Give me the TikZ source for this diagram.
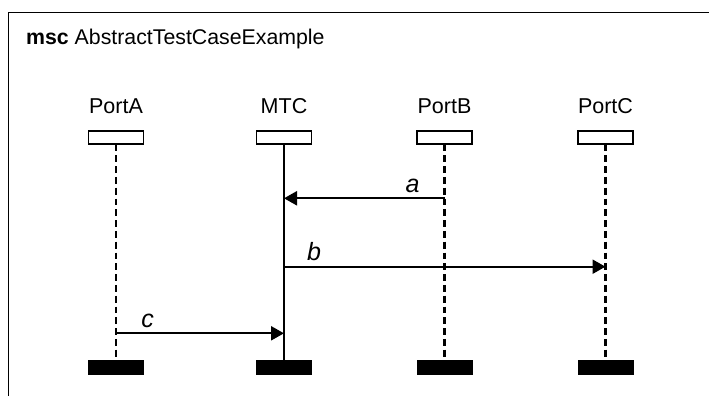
\documentclass[tikz,border=0pt]{standalone}
\usepackage{fontspec}
\setmainfont{Liberation Sans}
\usetikzlibrary{arrows.meta}
\begin{document}
\begin{tikzpicture}[x=1pt,y=-1pt,
  headbox/.style={draw,line width=1.4pt,minimum width=55pt,minimum height=13pt,inner sep=0pt,fill=white},
  endbox/.style={fill=black,draw=black,minimum width=55pt,minimum height=14pt,inner sep=0pt},
  portlabel/.style={anchor=base,inner sep=0pt,font=\fontsize{21.5}{24}\selectfont},
  msglabel/.style={anchor=base,inner sep=0pt,font=\fontsize{25}{28}\selectfont\itshape},
  envline/.style={line width=2.3pt,dash pattern=on 6.8pt off 4pt},
  instline/.style={line width=1.6pt},
  msg/.style={line width=2.3pt,-{Triangle[length=13pt,width=14pt]}}]
\useasboundingbox (0,0) rectangle (709,396);
% frame
\draw[line width=1.8pt] (8.5,396) -- (8.5,12.5) -- (709,12.5);
\node[anchor=base west,inner sep=0pt,font=\fontsize{21.3}{24}\selectfont] (title) at (26,44.5) {\textbf{msc} AbstractTestCaseExample};
% instance labels
\node[portlabel] (lA) at (116,113) {PortA};
\node[portlabel] (lM) at (284,113) {MTC};
\node[portlabel] (lB) at (444.5,113) {PortB};
\node[portlabel] (lC) at (605.5,113) {PortC};
% heads
\node[headbox] (hA) at (116,137.3) {};
\node[headbox] (hM) at (284,137.3) {};
\node[headbox] (hB) at (444.5,137.3) {};
\node[headbox] (hC) at (605.5,137.3) {};
% ends
\node[endbox] (eA) at (116,367.2) {};
\node[endbox] (eM) at (284,367.2) {};
\node[endbox] (eB) at (444.5,367.2) {};
\node[endbox] (eC) at (605.5,367.2) {};
% lifelines
\draw[envline] (hA.south) -- (eA.north);
\draw[instline] (hM.south) -- (eM.north);
\draw[envline] (hB.south) -- (eB.north);
\draw[envline] (hC.south) -- (eC.north);
% message points
\coordinate (aB) at (444.5,198.3);
\coordinate (aM) at (284,198.3);
\coordinate (bM) at (284,266.7);
\coordinate (bC) at (605.5,266.7);
\coordinate (cA) at (116,333.3);
\coordinate (cM) at (284,333.3);
% messages
\draw[msg] (aB) -- (aM);
\draw[msg] (bM) -- (bC);
\draw[msg] (cA) -- (cM);
\node[msglabel] (la) at (412.5,192) {a};
\node[msglabel] (lb) at (314,260) {b};
\node[msglabel] (lc) at (147.5,327) {c};
\end{tikzpicture}
\end{document}
